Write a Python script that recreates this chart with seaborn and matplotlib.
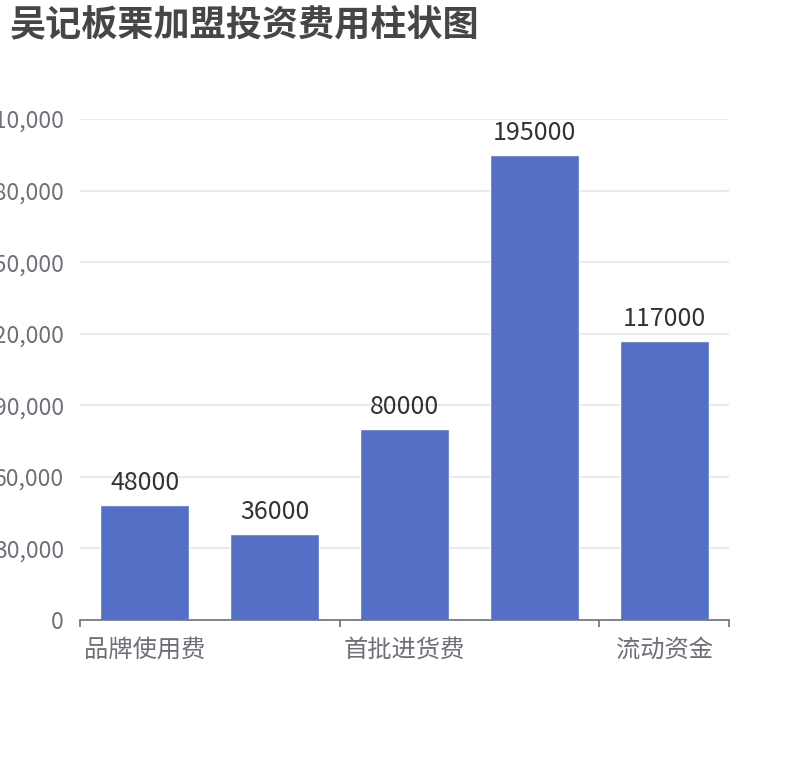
import numpy as np
import pandas as pd
import matplotlib
matplotlib.use("Agg")
import matplotlib.pyplot as plt
from matplotlib.ticker import FuncFormatter, FixedLocator
import seaborn as sns

# data
categories = ["品牌使用费", "店面装修费", "首批进货费", "设备购置费", "流动资金"]
values = [48000, 36000, 80000, 195000, 117000]
y_ticks = [0, 30000, 60000, 90000, 120000, 150000, 180000, 210000]

sns.set_style("white")
plt.rcParams['font.family'] = ['Noto Sans CJK SC', 'DejaVu Sans']

df = pd.DataFrame({"项目": categories, "费用": values})

fig = plt.figure(figsize=(8.1, 7.6), dpi=100)
ax = fig.add_axes([80 / 810, 140 / 760, 649 / 810, 501 / 760])

sns.barplot(data=df, x="项目", y="费用", color="#5470c6", saturation=1,
            width=0.685, ax=ax)

ax.set_xlim(-0.5, len(categories) - 0.5)
ax.set_ylim(0, y_ticks[-1])
ax.set_yticks(y_ticks)
ax.yaxis.set_major_formatter(FuncFormatter(lambda v, p: f"{int(v):,}"))
ax.grid(axis="y", color="#E0E6F1", linewidth=1.2)
ax.set_axisbelow(True)

# labels on every other category, tick marks on group boundaries
ax.set_xticks([0, 2, 4])
ax.set_xticklabels([categories[0], categories[2], categories[4]])
ax.xaxis.set_minor_locator(FixedLocator([-0.5, 1.5, 3.5, 4.5]))
ax.tick_params(axis="x", which="major", length=0, pad=12,
               labelsize=17.5, labelcolor="#6E7079")
ax.tick_params(axis="x", which="minor", length=5, width=1.2,
               color="#6E7079", direction="out", bottom=True)
ax.tick_params(axis="y", length=0, pad=11.5, labelsize=16.5, labelcolor="#6E7079")

for side in ["top", "right", "left"]:
    ax.spines[side].set_visible(False)
ax.spines["bottom"].set_color("#6E7079")
ax.spines["bottom"].set_linewidth(1.2)

ax.set_xlabel("")
ax.set_ylabel("")

for i, v in enumerate(values):
    ax.annotate(str(v), (i, v), xytext=(0, 6.5), textcoords="offset points",
                ha="center", va="bottom", fontsize=18, color="#333333")

fig.text(10 / 810, 1 - 26 / 760, "吴记板栗加盟投资费用柱状图", fontsize=26,
         fontweight="heavy", color="#464646", ha="left", va="center")

fig.savefig("out.png", dpi=100)
